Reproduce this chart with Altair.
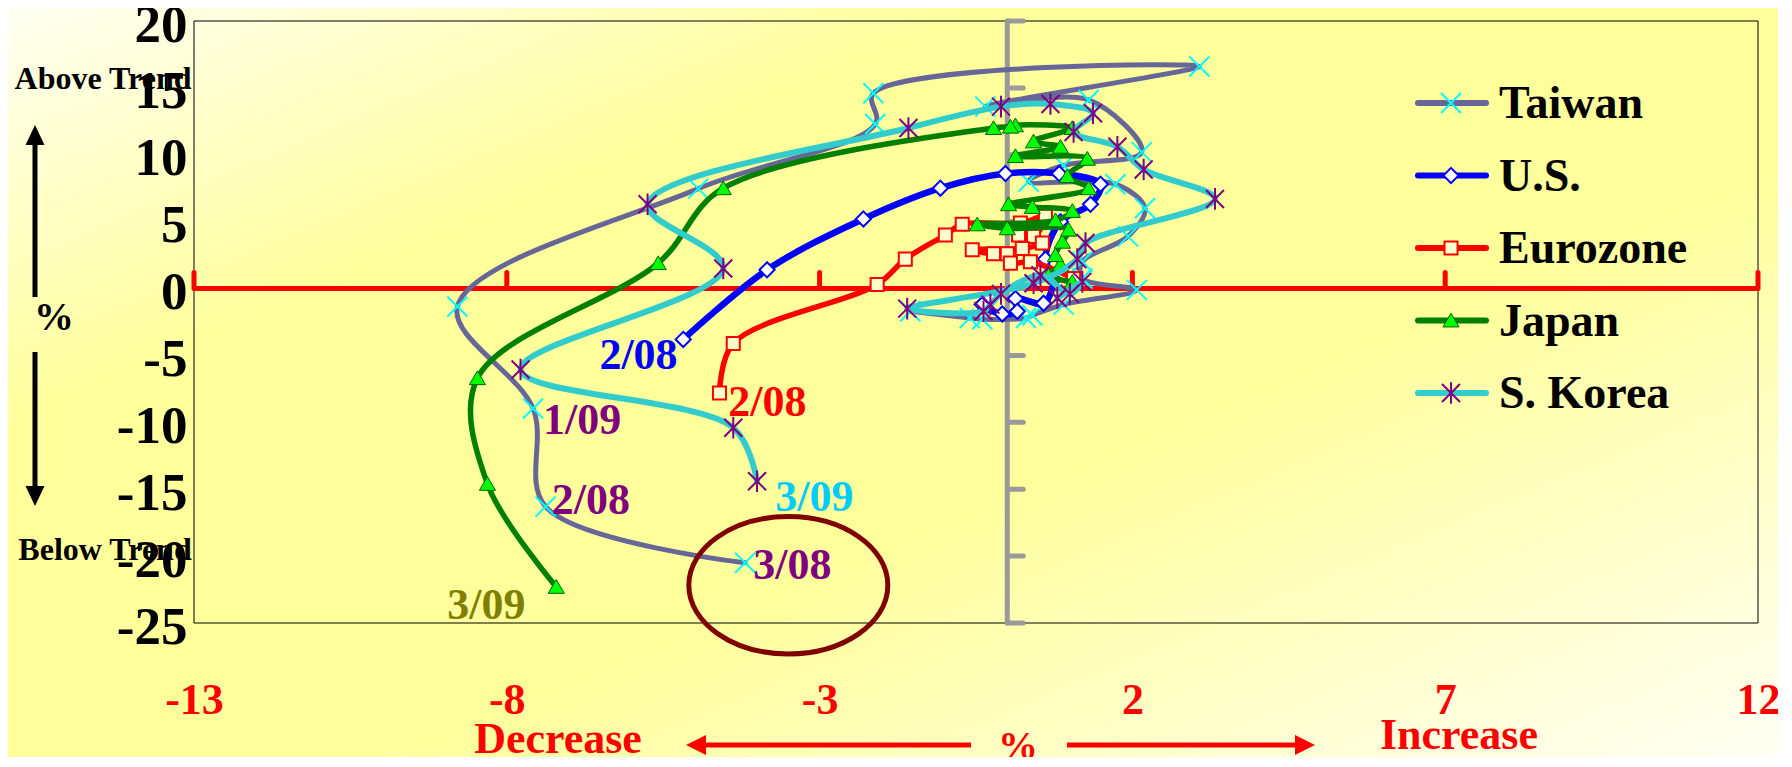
import altair as alt
import pandas as pd

# ---------------- data ----------------
X_TICKS = [-13, -8, -3, 2, 7, 12]
Y_TICKS = [-25, -20, -15, -10, -5, 0, 5, 10, 15, 20]

SERIES = ["Taiwan", "U.S.", "Eurozone", "Japan", "S. Korea"]

TAIWAN_X = [-1.55, -0.6, -0.4, 0.3, 0.4, 0.9, 2.07, 1.2, 1.2, 1.93, 2.2, 1.73, 0.34, 0.9, 2.15,
            1.3, -0.35, 3.07, -2.14, -2.11, -4.94, -8.79, -7.58, -7.38, -4.19]
TAIWAN_Y = [-1.7, -2.2, -2.3, -2.2, -2.0, -1.2, -0.1, 0.75, 2.0, 3.9, 6.0, 7.8, 8.0, 9.2, 10.2,
            14.1, 13.6, 16.6, 14.6, 12.3, 7.47, -1.34, -8.96, -16.3, -20.5]

US_X = [-5.18, -3.84, -2.3, -1.07, -0.03, 0.83, 1.49, 1.33, 0.85, 0.61, 0.74, 0.58, 0.13,
        0.16, -0.08, -0.4, -0.27]
US_Y = [-3.8, 1.4, 5.2, 7.5, 8.6, 8.6, 7.8, 6.3, 5.0, 2.2, 0.7, -1.1, -0.75,
        -1.7, -1.9, -1.2, -0.7]

EURO_X = [-4.6, -4.38, -2.08, -1.63, -0.99, -0.72, 0.21, 0.61, 0.42, 0.18, 0.56, 0.24,
          -0.56, -0.22, 0.0, 0.05, 0.37, 1.06]
EURO_Y = [-7.8, -4.1, 0.3, 2.2, 4.0, 4.8, 4.9, 5.4, 3.9, 4.0, 3.4, 3.0,
          2.9, 2.6, 2.6, 1.9, 2.0, 0.75]

JAPAN_X = [1.04, 0.66, 0.85, 0.77, 0.88, 0.98, 0.0, -0.48, 0.77, 1.04, 0.4, 0.02, 1.3, 0.96,
           1.28, 0.13, 0.85, 0.42, 1.04, 0.13, 0.05, -0.22, -4.54, -5.58, -8.47, -8.31, -7.21]
JAPAN_Y = [0.5, 1.0, 1.8, 2.5, 3.5, 4.4, 4.5, 4.8, 5.1, 5.8, 6.1, 6.3, 7.5, 8.4,
           9.7, 9.9, 10.6, 11.0, 12.0, 12.2, 12.1, 12.0, 7.5, 1.9, -6.7, -14.6, -22.3]

KOREA_X = [0.8, 1.2, 1.0, 0.53, -0.1, -0.27, -0.38, -1.6, 0.42, 1.12, 1.25, 3.32, 2.18, 1.76,
           1.06, 1.37, 0.69, -0.1, -1.58, -5.75, -4.54, -7.78, -4.38, -4.0]
KOREA_Y = [-0.7, 0.5, -0.4, 1.0, -0.4, -1.2, -1.7, -1.5, 0.4, 2.2, 3.4, 6.7, 8.9, 10.6,
           11.7, 13.1, 13.8, 13.6, 12.0, 6.3, 1.5, -6.05, -10.4, -14.4]

# date annotations: text, x, y (data units, left/baseline anchored)
NOTE_TEXT = ["2/08", "2/08", "1/09", "2/08", "3/09", "3/08", "3/09"]
NOTE_X = [-6.52, -4.46, -7.42, -7.28, -3.71, -4.06, -8.95]
NOTE_Y = [-6.05, -9.56, -10.9, -16.88, -16.65, -21.73, -24.72]
NOTE_COLOR = ["#0000FF", "#FF0000", "#800080", "#800080", "#00CCFF", "#800080", "#808000"]

# ---------------- layout ----------------
W, H = 1564, 602
PAD = {"left": 186, "top": 13, "right": 20, "bottom": 134}
FONT = "Liberation Serif"

x_scale = alt.Scale(domain=[-13, 12], nice=False, zero=False)
y_scale = alt.Scale(domain=[-25, 20], nice=False, zero=False)

X_AXIS = alt.Axis(values=X_TICKS, title=None, domain=False, ticks=False, tickSize=0, grid=False,
                  labelFont=FONT, labelFontWeight="bold", labelFontSize=44,
                  labelColor="#FF0000", labelPadding=55, labelFlush=False,
                  labelOverlap=False, labelExpr="'' + datum.value", zindex=1)
Y_AXIS = alt.Axis(values=Y_TICKS, title=None, domain=False, ticks=False, tickSize=0, grid=False,
                  labelFont=FONT, labelFontWeight="bold", labelFontSize=53,
                  labelColor="#000000", labelPadding=7, labelOffset=4, labelFlush=False,
                  labelOverlap=False, labelExpr="'' + datum.value", zindex=1)


def ex(f):
    return alt.X(f, type="quantitative", scale=x_scale, axis=X_AXIS)


def ey(f):
    return alt.Y(f, type="quantitative", scale=y_scale, axis=Y_AXIS)


def dx(v):
    return alt.XDatum(v, type="quantitative", scale=x_scale, axis=X_AXIS)


def dy(v):
    return alt.YDatum(v, type="quantitative", scale=y_scale, axis=Y_AXIS)


one = pd.DataFrame({"k": [0]})

X_PATH = "M-1,-1L1,1M-1,1L1,-1"
STAR_PATH = "M-1,-1L1,1M-1,1L1,-1M0,-1.2L0,1.2"
DIAMOND_PATH = "M0,-1L1,0L0,1L-1,0Z"
SQUARE_PATH = "M-1,-1L1,-1L1,1L-1,1Z"
TRI_PATH = "M0,-0.9L1,0.8L-1,0.8Z"
ELLIPSE_PATH = ("M-1,0C-1,-0.381,-0.5523,-0.69,0,-0.69C0.5523,-0.69,1,-0.381,1,0"
                "C1,0.381,0.5523,0.69,0,0.69C-0.5523,0.69,-1,0.381,-1,0Z")

STYLE = {
    "Taiwan": dict(line="#666699", width=5,
                   marker=dict(shape=X_PATH, size=400, filled=False, stroke="#00FFFF",
                               strokeWidth=2, opacity=1)),
    "U.S.": dict(line="#0000FF", width=6.5,
                 marker=dict(shape=DIAMOND_PATH, size=230, filled=True, fill="#FFFFFF",
                             stroke="#0000FF", strokeWidth=2, opacity=1)),
    "Eurozone": dict(line="#FF0000", width=5.5,
                     marker=dict(shape=SQUARE_PATH, size=170, filled=True, fill="#FFFFCC",
                                 stroke="#FF0000", strokeWidth=2, opacity=1)),
    "Japan": dict(line="#008000", width=5.5,
                  marker=dict(shape=TRI_PATH, size=260, filled=True, fill="#00FF00",
                              stroke="#006400", strokeWidth=1, opacity=1)),
    "S. Korea": dict(line="#33CCCC", width=6,
                     marker=dict(shape=STAR_PATH, size=324, filled=False, stroke="#800080",
                                 strokeWidth=2, opacity=1)),
}
DATA = {
    "Taiwan": (TAIWAN_X, TAIWAN_Y),
    "U.S.": (US_X, US_Y),
    "Eurozone": (EURO_X, EURO_Y),
    "Japan": (JAPAN_X, JAPAN_Y),
    "S. Korea": (KOREA_X, KOREA_Y),
}

layers = []

# background gradient
grad = alt.LinearGradient(
    gradient="linear", x1=0, y1=0, x2=1, y2=1,
    stops=[alt.GradientStop(offset=0, color="#FFFFF2"),
           alt.GradientStop(offset=0.28, color="#FFFF9C"),
           alt.GradientStop(offset=0.6, color="#FFFF9C"),
           alt.GradientStop(offset=1, color="#FFFFF4")])
layers.append(alt.Chart(one).mark_rect(color=grad).encode(
    x=alt.value(-PAD["left"]), x2=alt.value(W + PAD["right"]),
    y=alt.value(-PAD["top"]), y2=alt.value(H + PAD["bottom"])))

# plot frame
layers.append(alt.Chart(one).mark_rect(fillOpacity=0, stroke="#000000", strokeWidth=1).encode(
    x=alt.value(0), x2=alt.value(W), y=alt.value(0), y2=alt.value(H)))

# red horizontal axis at y = 0 with ticks
xt = pd.DataFrame({"t": X_TICKS})
layers.append(alt.Chart(one).mark_rule(color="#FF0000", strokeWidth=5).encode(
    x=dx(min(X_TICKS)), x2=alt.datum(max(X_TICKS)), y=dy(0)))
layers.append(alt.Chart(xt).mark_rule(color="#FF0000", strokeWidth=5, strokeCap="round",
                                      y2Offset=-16).encode(
    x=ex("t"), y=dy(0), y2=alt.datum(0)))

# grey vertical axis at x = 0 with ticks
yt = pd.DataFrame({"t": Y_TICKS})
layers.append(alt.Chart(one).mark_rule(color="#999999", strokeWidth=5, strokeCap="round").encode(
    x=dx(0), y=dy(min(Y_TICKS)), y2=alt.datum(max(Y_TICKS))))
layers.append(alt.Chart(yt).mark_rule(color="#999999", strokeWidth=5, strokeCap="round",
                                      x2Offset=16).encode(
    y=ey("t"), x=dx(0), x2=alt.datum(0)))

# series
for name in SERIES:
    xs, ys = DATA[name]
    st = STYLE[name]
    df = pd.DataFrame({"x": xs, "y": ys, "i": list(range(len(xs)))})
    layers.append(alt.Chart(df).mark_line(color=st["line"], strokeWidth=st["width"],
                                          interpolate="catmull-rom", strokeCap="round",
                                          strokeJoin="round").encode(
        x=ex("x"), y=ey("y"), order=alt.Order("i:Q")))
    layers.append(alt.Chart(df).mark_point(**st["marker"]).encode(x=ex("x"), y=ey("y")))

# date notes
for t, nx, ny, c in zip(NOTE_TEXT, NOTE_X, NOTE_Y, NOTE_COLOR):
    layers.append(alt.Chart(pd.DataFrame({"t": [t]})).mark_text(
        font=FONT, fontWeight="bold", fontSize=44, color=c, align="left",
        baseline="alphabetic").encode(x=dx(nx), y=dy(ny), text="t:N"))

# highlight ellipse
layers.append(alt.Chart(one).mark_point(shape=ELLIPSE_PATH, size=199 * 199, filled=False,
                                        stroke="#800000", strokeWidth=5, opacity=1).encode(
    x=dx(-3.5), y=dy(-22.18)))

# legend
for k, name in enumerate(SERIES):
    st = STYLE[name]
    ly = 82 + 72.5 * k
    layers.append(alt.Chart(one).mark_rule(color=st["line"], strokeWidth=6, strokeCap="round").encode(
        x=alt.value(1224), x2=alt.value(1292), y=alt.value(ly)))
    layers.append(alt.Chart(one).mark_point(**st["marker"]).encode(
        x=alt.value(1257), y=alt.value(ly)))
    layers.append(alt.Chart(pd.DataFrame({"n": [name]})).mark_text(
        font=FONT, fontWeight="bold", fontSize=46, color="#000000", align="left",
        baseline="middle").encode(x=alt.value(1305), y=alt.value(ly + 1), text="n:N"))

# side annotations
def label(txt, px, py, size, color, **kw):
    return alt.Chart(pd.DataFrame({"s": [txt]})).mark_text(
        font=FONT, fontWeight="bold", fontSize=size, color=color, align="center",
        baseline="middle", **kw).encode(x=alt.value(px), y=alt.value(py), text="s:N")


layers.append(label("Above Trend", -91, 58, 32, "#000000"))
layers.append(label("Below Trend", -89, 529, 32, "#000000"))
layers.append(label("%", -140, 297, 40, "#000000"))
layers.append(label("Decrease", 364, 719, 44, "#FF0000"))
layers.append(label("%", 824, 726, 40, "#FF0000"))
layers.append(label("Increase", 1265, 715, 44, "#FF0000"))

# arrows
layers.append(alt.Chart(one).mark_rule(color="#000000", strokeWidth=5).encode(
    x=alt.value(-159), y=alt.value(118), y2=alt.value(276)))
layers.append(alt.Chart(one).mark_point(shape="M0,-1L0.95,1L-0.95,1Z", size=400, filled=True,
                                        color="#000000", opacity=1).encode(
    x=alt.value(-159), y=alt.value(114)))
layers.append(alt.Chart(one).mark_rule(color="#000000", strokeWidth=5).encode(
    x=alt.value(-159), y=alt.value(331), y2=alt.value(472)))
layers.append(alt.Chart(one).mark_point(shape="M0,1L0.95,-1L-0.95,-1Z", size=400, filled=True,
                                        color="#000000", opacity=1).encode(
    x=alt.value(-159), y=alt.value(475)))

layers.append(alt.Chart(one).mark_rule(color="#FF0000", strokeWidth=5).encode(
    x=alt.value(505), x2=alt.value(777), y=alt.value(724)))
layers.append(alt.Chart(one).mark_point(shape="M-1,0L1,-1L1,1Z", size=400, filled=True,
                                        color="#FF0000", opacity=1).encode(
    x=alt.value(502), y=alt.value(724)))
layers.append(alt.Chart(one).mark_rule(color="#FF0000", strokeWidth=5).encode(
    x=alt.value(873), x2=alt.value(1108), y=alt.value(724)))
layers.append(alt.Chart(one).mark_point(shape="M1,0L-1,-1L-1,1Z", size=400, filled=True,
                                        color="#FF0000", opacity=1).encode(
    x=alt.value(1111), y=alt.value(724)))

chart = alt.layer(*layers).properties(
    width=W, height=H, padding=PAD, autosize=alt.AutoSizeParams(type="none"),
    background="#FFFFD0",
).configure_view(stroke=None)

chart.save("out.html", embed_options={"renderer": "svg", "actions": False})
